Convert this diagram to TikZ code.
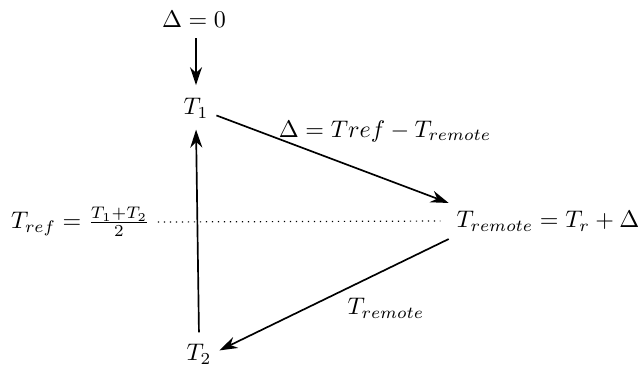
\documentclass[tikz,border=0pt]{standalone}
\usetikzlibrary{arrows.meta}

\tikzset{every picture/.style={line width=0.7pt}}
\tikzset{
  lbl/.style={inner sep=3pt},
  arr/.style={-{Stealth[length=7.5pt,width=5pt,inset=2.4pt]}}
}

\begin{document}
\begin{tikzpicture}[x=0.4167pt,y=0.4167pt,yscale=-1,xscale=1]
\useasboundingbox (0,0) rectangle (641,369);

% Text Node
\node [lbl] (d0) at (194,19.5) {$\Delta = 0$};
% Text Node
\node [lbl] (t1) at (196,108) {$T_{1}$};
% Text Node
\node [lbl] (t2) at (199,354) {$T_{2}$};
% Text Node
\node [lbl] (tref) at (80.5,222) {$T_{ref} = \frac{T_1+T_2}{2}$};
% Text Node
\node [lbl] (trem) at (548,221) {$T_{remote} = T_{r} + \Delta$};
% Text Node
\node [lbl] (dlt) at (385,131) {$\Delta = Tref - T_{remote}$};
% Text Node
\node [lbl] (trl) at (386,308) {$T_{remote}$};

%Straight Lines
\draw [arr, shorten <=1pt, shorten >=2pt] (d0.south -| t1.north) -- (t1.north);
\draw [arr] (t1.-20) -- (trem.north west);
\draw [arr] (trem.south west) -- (t2.10);
\draw [arr, shorten <=1.5pt, shorten >=1.5pt] (t2.north) -- (t1.south);
%Dotted Line
\draw [dotted, line width=0.5pt, shorten >=3.5pt] (tref.east) -- (trem.west);

\end{tikzpicture}
\end{document}
